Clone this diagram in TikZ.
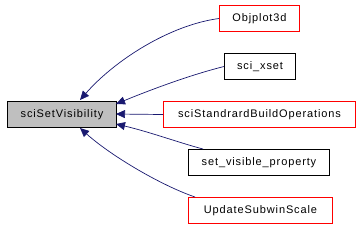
\documentclass[tikz,border=0pt]{standalone}
\usepackage{fontspec}
\setmainfont{Liberation Sans}[LetterSpace=8]
\usetikzlibrary{arrows.meta}
\definecolor{navy}{HTML}{191970}
\definecolor{boxred}{HTML}{FF0000}
\begin{document}
\begin{tikzpicture}[x=1pt,y=-1pt,
  box/.style={line width=1pt,minimum height=26pt,inner sep=0pt,font=\fontsize{11}{13}\selectfont,anchor=north west},
  blackbox/.style={box,draw=black},
  redbox/.style={box,draw=boxred},
  edge/.style={draw=navy,line width=0.7pt,{Triangle[length=9pt,width=8pt]}-}]
\useasboundingbox (0,0) rectangle (359,226);
\node[blackbox,fill=black!25,minimum width=109pt] (src) at (7,101) {sciSetVisibility};
\node[redbox,minimum width=80pt] (a) at (219,5) {Objplot3d};
\node[blackbox,minimum width=71pt] (b) at (224,53) {sci\_xset};
\node[redbox,minimum width=192pt] (c) at (163,101) {sciStandrardBuildOperations};
\node[blackbox,minimum width=141pt] (d) at (188,149) {set\_visible\_property};
\node[redbox,minimum width=144pt] (e) at (188,197) {UpdateSubwinScale};
\coordinate (ta) at (80,100);
\coordinate (tb) at (116,104);
\coordinate (tc) at (116,114);
\coordinate (td) at (116,124);
\coordinate (te) at (80,128);
\coordinate (ed) at (203,149);
\coordinate (ee) at (195,197);
\draw[edge] (ta) .. controls (115,60) and (170,25) .. (a.west);
\draw[edge] (tb) .. controls (150,90) and (190,75) .. (b.west);
\draw[edge] (tc) -- (c.west);
\draw[edge] (td) .. controls (150,132) and (180,143) .. (ed);
\draw[edge] (te) .. controls (110,155) and (160,185) .. (ee);
\end{tikzpicture}
\end{document}
